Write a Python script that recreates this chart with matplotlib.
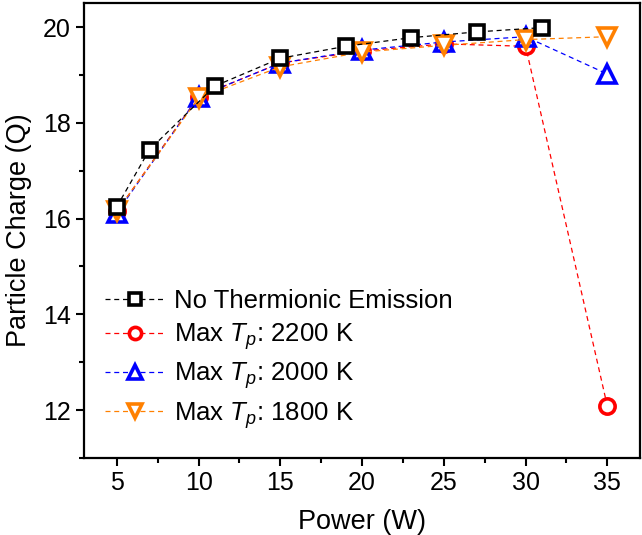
import matplotlib
matplotlib.use("Agg")
import matplotlib.pyplot as plt
from matplotlib.ticker import MultipleLocator

plt.rcParams['font.family'] = ['Liberation Sans', 'DejaVu Sans']
plt.rcParams['mathtext.fontset'] = 'custom'
plt.rcParams['mathtext.it'] = 'Liberation Sans:italic'
plt.rcParams['mathtext.rm'] = 'Liberation Sans'

x_none = [5, 7, 11, 15, 19, 23, 27, 31]
y_none = [16.25, 17.44, 18.77, 19.35, 19.6, 19.78, 19.9, 19.99]

x_t = [5, 10, 15, 20, 25, 30, 35]
y_2200 = [16.15, 18.55, 19.25, 19.5, 19.65, 19.6, 12.08]
y_2000 = [16.12, 18.55, 19.25, 19.52, 19.69, 19.8, 19.02]
y_1800 = [16.15, 18.52, 19.17, 19.48, 19.62, 19.74, 19.8]

labels = ['No Thermionic Emission', r'Max $T_p$: 2200 K',
          r'Max $T_p$: 2000 K', r'Max $T_p$: 1800 K']

fig = plt.figure(figsize=(6.42, 5.35), dpi=100)
ax = fig.add_axes([0.131, 0.144, 0.866, 0.85])

ms = 10
mew = 2.6
dash = (0, (4, 3))
ax.plot(x_none, y_none, ls=dash, lw=0.9, color='black', marker='s',
        ms=ms, mfc='white', mec='black', mew=mew, label=labels[0], zorder=3)
ax.plot(x_t, y_2200, ls=dash, lw=0.9, color='red', marker='o',
        ms=ms + 1, mfc='white', mec='red', mew=mew, label=labels[1], zorder=2)
ax.plot(x_t, y_2000, ls=dash, lw=0.9, color='blue', marker='^',
        ms=ms + 3, mfc='white', mec='blue', mew=mew, label=labels[2], zorder=2)
ax.plot(x_t, y_1800, ls=dash, lw=0.9, color='#ff8000', marker='v',
        ms=ms + 3, mfc='white', mec='#ff8000', mew=mew, label=labels[3], zorder=2)

ax.set_xlim(3, 37)
ax.set_ylim(11, 20.5)
ax.xaxis.set_major_locator(MultipleLocator(5))
ax.xaxis.set_minor_locator(MultipleLocator(2.5))
ax.yaxis.set_major_locator(MultipleLocator(2))
ax.yaxis.set_minor_locator(MultipleLocator(1))
ax.tick_params(which='major', direction='out', length=6, width=1.5, labelsize=18)
ax.tick_params(which='minor', direction='out', length=3.5, width=1.5)
for s in ax.spines.values():
    s.set_linewidth(1.6)

ax.set_xlabel('Power (W)', fontsize=19.5, labelpad=10)
ax.set_ylabel('Particle Charge (Q)', fontsize=19.5, labelpad=8)

leg = ax.legend(loc='lower left', bbox_to_anchor=(0.0, 0.015), frameon=False,
                fontsize=18.5, handlelength=2.4, handletextpad=0.3,
                labelspacing=0.33, borderaxespad=0.4, markerscale=0.8)

fig.savefig('out.png', dpi=100)
